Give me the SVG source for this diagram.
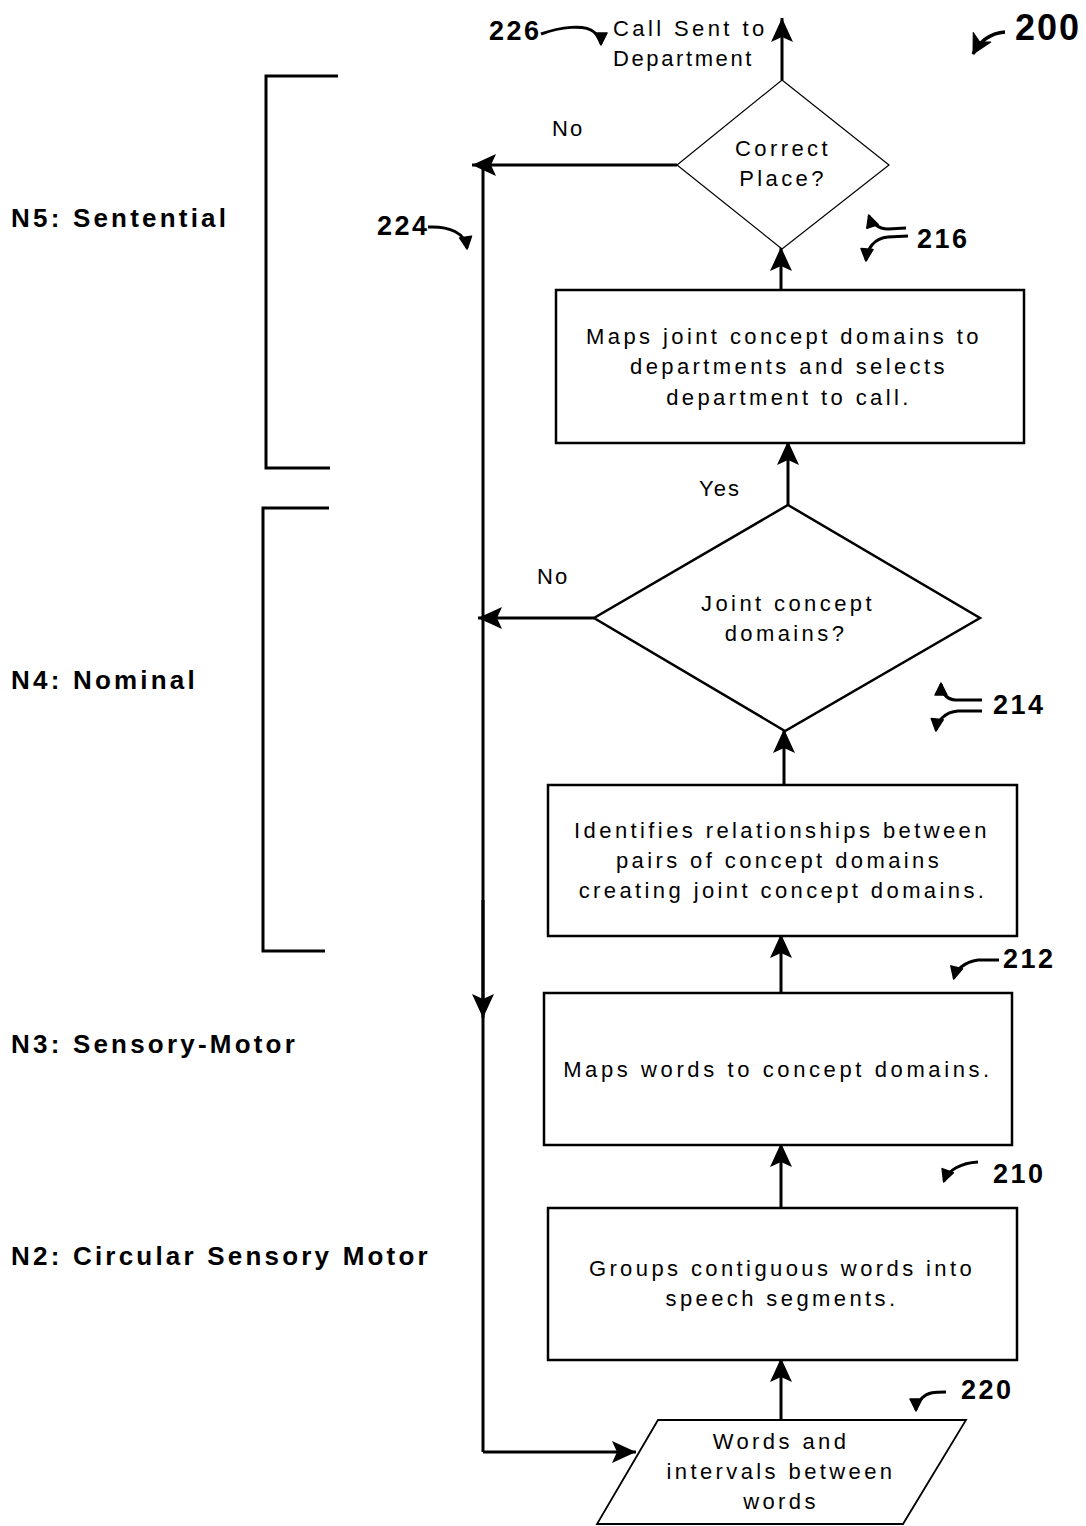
<svg xmlns="http://www.w3.org/2000/svg" width="1086" height="1526" viewBox="0 0 1086 1526">
<style>
.bg{fill:#fff}
.box{fill:#fff;stroke:#000;stroke-width:2.5}
.thin{fill:#fff;stroke:#000;stroke-width:1.2}
.conn{fill:none;stroke:#000;stroke-width:3}
.ref{fill:none;stroke:#000;stroke-width:3}
.brk{fill:none;stroke:#000;stroke-width:3}
.t{font-family:"Liberation Sans",Arial,sans-serif;font-size:22px;letter-spacing:3.4px;fill:#000;text-anchor:middle}
.ts{font-family:"Liberation Sans",Arial,sans-serif;font-size:22px;letter-spacing:2px;fill:#000}
.lv{font-family:"Liberation Sans",Arial,sans-serif;font-size:26px;font-weight:bold;letter-spacing:3.2px;fill:#000}
.num{font-family:"Liberation Sans",Arial,sans-serif;font-size:27px;font-weight:bold;letter-spacing:2.5px;fill:#000}
</style>
<defs>
<marker id="ah" viewBox="-26 -13 28 26" markerWidth="28" markerHeight="26" refX="0" refY="0" orient="auto" markerUnits="userSpaceOnUse">
<path d="M0,0 L-24,-11 L-19,0 L-24,11 Z" fill="#000"/>
</marker>
<marker id="sh" viewBox="-14 -8 16 16" markerWidth="16" markerHeight="16" refX="0" refY="0" orient="auto" markerUnits="userSpaceOnUse">
<path d="M1,0 L-11,-6 L-11,6 Z" fill="#000" stroke="#000" stroke-width="1.5" stroke-linejoin="round"/>
</marker>
<marker id="bh" viewBox="-22 -13 24 26" markerWidth="24" markerHeight="26" refX="0" refY="0" orient="auto" markerUnits="userSpaceOnUse">
<path d="M0,0 L-19,-10 L-14,0 L-19,10 Z" fill="#000" stroke="#000" stroke-width="1" stroke-linejoin="round"/>
</marker>
</defs>
<rect class="bg" x="0" y="0" width="1086" height="1526"/>

<g id="levels">
<path class="brk" d="M338,76 H266 V468 H330"/>
<path class="brk" d="M329,508 H263 V951 H325"/>
<text class="lv" x="11" y="227">N5: Sentential</text>
<text class="lv" x="11" y="689">N4: Nominal</text>
<text class="lv" x="11" y="1053">N3: Sensory-Motor</text>
<text class="lv" x="11" y="1265">N2: Circular Sensory Motor</text>
</g>

<g id="connectors">
<line class="conn" x1="782" y1="80" x2="782" y2="18" marker-end="url(#ah)"/>
<line class="conn" x1="677" y1="165" x2="472" y2="165" marker-end="url(#ah)"/>
<line class="conn" x1="483" y1="165" x2="483" y2="1452"/>
<line class="conn" x1="483" y1="900" x2="483" y2="1018" marker-end="url(#ah)"/>
<line class="conn" x1="483" y1="1452" x2="636" y2="1452" marker-end="url(#ah)"/>
<line class="conn" x1="781" y1="1420" x2="781" y2="1358" marker-end="url(#ah)"/>
<line class="conn" x1="781" y1="1208" x2="781" y2="1143" marker-end="url(#ah)"/>
<line class="conn" x1="781" y1="993" x2="781" y2="934" marker-end="url(#ah)"/>
<line class="conn" x1="784" y1="785" x2="784" y2="729" marker-end="url(#ah)"/>
<line class="conn" x1="594" y1="618" x2="478" y2="618" marker-end="url(#ah)"/>
<line class="conn" x1="788" y1="505" x2="788" y2="441" marker-end="url(#ah)"/>
<line class="conn" x1="781" y1="290" x2="781" y2="247" marker-end="url(#ah)"/>
<text class="ts" x="552" y="136">No</text>
<text class="ts" x="537" y="584">No</text>
<text class="ts" x="699" y="496">Yes</text>
</g>

<g id="n226">
<text class="ts" x="613" y="36" style="letter-spacing:3.4px">Call Sent to</text>
<text class="ts" x="613" y="66" style="letter-spacing:2.6px">Department</text>
</g>

<g id="n216d">
<polygon class="thin" points="782,80 889,165 782,249 677,165"/>
<text class="t" x="783" y="156">Correct</text>
<text class="t" x="783" y="186">Place?</text>
</g>

<g id="n216b">
<rect class="box" x="556" y="290" width="468" height="153"/>
<text class="t" x="784" y="344">Maps joint concept domains to</text>
<text class="t" x="789" y="374">departments and selects</text>
<text class="t" x="789" y="405">department to call.</text>
</g>

<g id="n214">
<polygon class="box" points="788,505 980,618 785,731 594,618"/>
<text class="t" x="788" y="611">Joint concept</text>
<text class="t" x="786" y="641">domains?</text>
</g>

<g id="n212">
<rect class="box" x="548" y="785" width="469" height="151"/>
<text class="t" x="782" y="838">Identifies relationships between</text>
<text class="t" x="779" y="868">pairs of concept domains</text>
<text class="t" x="783" y="898">creating joint concept domains.</text>
</g>

<g id="n210">
<rect class="box" x="544" y="993" width="468" height="152"/>
<text class="t" x="778" y="1077" style="letter-spacing:3.6px">Maps words to concept domains.</text>
</g>

<g id="n220b">
<rect class="box" x="548" y="1208" width="469" height="152"/>
<text class="t" x="782" y="1276">Groups contiguous words into</text>
<text class="t" x="782" y="1306">speech segments.</text>
</g>

<g id="n220">
<polygon class="thin" points="658,1420 966,1420 903,1524 597,1524" style="stroke-width:1.8"/>
<text class="t" x="781" y="1449">Words and</text>
<text class="t" x="781" y="1479">intervals between</text>
<text class="t" x="781" y="1509">words</text>
</g>

<g id="refs">
<text class="num" x="1015" y="40" style="font-size:36px;letter-spacing:2px">200</text>
<path class="ref" d="M1005,32 C991,33 980,41 973,54" style="stroke-width:3.5" marker-end="url(#bh)"/>
<text class="num" x="489" y="40">226</text>
<path class="ref" d="M541,34 C560,27 585,24 594,32 C599,37 601,41 601,44" marker-end="url(#sh)"/>
<text class="num" x="377" y="235">224</text>
<path class="ref" d="M428,227 C450,226 465,233 467,248" marker-end="url(#sh)"/>
<text class="num" x="917" y="248">216</text>
<path class="ref" d="M906,228 L888,229 C878,229 871,222 869,216" marker-end="url(#sh)"/>
<path class="ref" d="M908,236 L888,237 C874,238 867,249 866,260" marker-end="url(#sh)"/>
<text class="num" x="993" y="714">214</text>
<path class="ref" d="M982,700 L955,700 C945,699 941,691 941,684" marker-end="url(#sh)"/>
<path class="ref" d="M982,711 L958,711 C945,712 937,721 936,730" marker-end="url(#sh)"/>
<text class="num" x="1003" y="968">212</text>
<path class="ref" d="M999,960 L978,960 C964,962 956,970 954,978" marker-end="url(#sh)"/>
<text class="num" x="993" y="1183">210</text>
<path class="ref" d="M978,1162 C961,1163 948,1170 944,1181" marker-end="url(#sh)"/>
<text class="num" x="961" y="1399">220</text>
<path class="ref" d="M946,1392 C935,1392 928,1392 922,1398 C917,1404 916,1406 916,1410" marker-end="url(#sh)"/>
</g>
</svg>
